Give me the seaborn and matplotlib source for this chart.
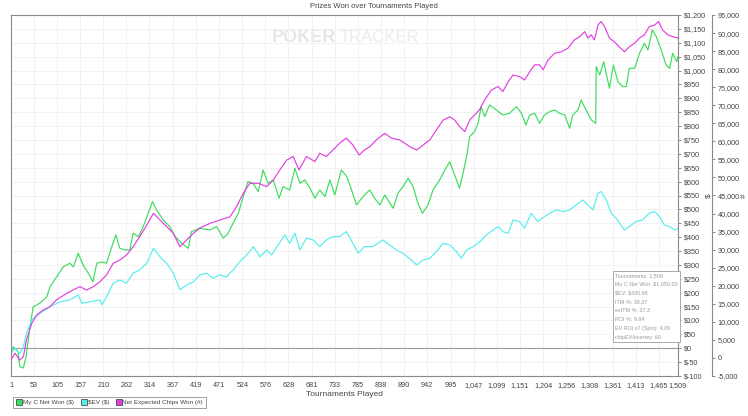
import matplotlib
matplotlib.use("Agg")
import matplotlib.pyplot as plt
import seaborn as sns
from matplotlib.lines import Line2D

# My C Net Won ($)
net_t = [1, 6, 17, 21, 29, 35, 44, 51, 67, 82, 89, 104, 119, 134, 142, 153, 164, 176, 186, 195,
         206, 217, 229, 238, 247, 259, 270, 277, 289, 300, 311, 321, 330, 345, 360, 372, 387, 402,
         409, 428, 451, 466, 481, 492, 503, 515, 526, 537, 548, 560, 571, 582, 594, 607, 616, 631,
         643, 654, 665, 677, 688, 699, 711, 722, 733, 748, 760, 771, 782, 797, 812, 823, 835, 846,
         865, 876, 887, 899, 910, 921, 931, 944, 955, 970, 982, 993, 1004, 1015, 1023, 1031, 1038,
         1049, 1057, 1064, 1072, 1083, 1098, 1113, 1128, 1144, 1155, 1165, 1174, 1185, 1196, 1207,
         1219, 1230, 1241, 1253, 1264, 1271, 1283, 1290, 1301, 1313, 1323, 1324, 1332, 1341, 1354,
         1363, 1373, 1384, 1392, 1399, 1411, 1422, 1433, 1441, 1451, 1460, 1471, 1482, 1490, 1497,
         1506, 1509]
net_won = [-13, 5, -13, -67, -71, -31, 77, 149, 163, 185, 221, 257, 293, 306, 293, 342, 300, 270,
           239, 306, 311, 306, 366, 408, 360, 354, 354, 414, 402, 438, 486, 528, 498, 462, 438, 402,
           378, 360, 420, 432, 426, 438, 396, 414, 450, 486, 546, 600, 594, 564, 642, 594, 606, 540,
           582, 570, 648, 594, 606, 576, 540, 570, 546, 606, 552, 642, 618, 570, 516, 546, 570, 540,
           516, 552, 504, 558, 582, 612, 582, 522, 486, 516, 570, 606, 642, 672, 624, 576, 630, 690,
           762, 780, 810, 870, 834, 876, 858, 840, 846, 870, 846, 804, 840, 846, 810, 840, 852, 858,
           846, 840, 792, 840, 858, 894, 858, 822, 810, 1014, 984, 1032, 936, 1020, 960, 942, 942,
           1008, 1008, 1062, 1098, 1074, 1146, 1122, 1074, 1020, 1008, 1062, 1032, 1050]

# $EV ($)
ev_t = [1, 10, 21, 29, 36, 48, 67, 89, 112, 134, 153, 161, 179, 202, 206, 217, 232, 247, 262, 277,
        292, 308, 323, 338, 353, 368, 383, 398, 413, 428, 443, 458, 473, 488, 503, 518, 534, 549,
        564, 579, 590, 605, 620, 631, 643, 654, 669, 684, 699, 714, 729, 744, 759, 774, 786, 800,
        819, 842, 857, 872, 887, 906, 918, 933, 948, 963, 978, 993, 1008, 1019, 1031, 1046, 1061,
        1076, 1091, 1102, 1113, 1125, 1136, 1151, 1162, 1177, 1192, 1207, 1219, 1234, 1249, 1264,
        1279, 1294, 1305, 1317, 1328, 1335, 1347, 1358, 1369, 1380, 1388, 1399, 1414, 1429, 1444,
        1456, 1467, 1478, 1490, 1501, 1509]
ev_won = [-18, 0, -18, 5, 54, 102, 126, 149, 167, 174, 192, 162, 167, 174, 156, 185, 234, 246, 234,
          270, 282, 306, 360, 329, 306, 270, 210, 228, 239, 264, 270, 252, 264, 257, 282, 311, 336,
          366, 329, 354, 336, 372, 408, 378, 414, 354, 396, 390, 366, 390, 402, 402, 420, 378, 342,
          366, 366, 390, 372, 354, 342, 318, 300, 318, 324, 348, 378, 372, 348, 324, 354, 366, 384,
          408, 426, 438, 420, 414, 462, 456, 432, 486, 456, 474, 486, 498, 492, 498, 516, 534, 516,
          498, 558, 564, 534, 486, 468, 444, 426, 438, 456, 462, 486, 492, 474, 444, 438, 426, 431]

# Net Expected Chips Won (#)
chips_t = [1, 10, 21, 29, 36, 48, 59, 74, 89, 104, 127, 149, 157, 172, 187, 202, 217, 232, 247, 262,
           277, 292, 308, 323, 338, 353, 368, 383, 398, 413, 428, 451, 473, 496, 511, 526, 541, 560,
           579, 594, 609, 624, 639, 652, 669, 688, 699, 714, 729, 744, 759, 774, 788, 800, 812, 827,
           846, 861, 880, 891, 903, 918, 933, 948, 963, 978, 993, 1004, 1015, 1027, 1038, 1049, 1060,
           1072, 1087, 1102, 1113, 1125, 1136, 1151, 1162, 1174, 1185, 1196, 1204, 1215, 1230, 1245,
           1260, 1275, 1287, 1298, 1305, 1313, 1320, 1328, 1335, 1343, 1354, 1365, 1376, 1388, 1399,
           1411, 1422, 1433, 1444, 1456, 1465, 1474, 1486, 1497, 1509]
chips_won = [-550, 1300, -550, 360, 4990, 9610, 11900, 13300, 14200, 16100, 17900, 19300, 19750,
             18800, 19750, 21100, 23000, 26200, 27100, 28500, 30800, 33600, 36800, 40100, 38200,
             36400, 34500, 30800, 32700, 34500, 36000, 37300, 38200, 39100, 41900, 45600, 48400,
             48400, 47450, 49300, 52100, 54800, 55800, 52100, 55800, 54400, 56700, 55800, 57600,
             59500, 60900, 59000, 56200, 57600, 58500, 60400, 62200, 60900, 60400, 59500, 58500,
             57600, 59000, 60400, 63200, 65900, 66800, 65900, 64100, 62700, 65900, 67300, 68700,
             71500, 74200, 75200, 73800, 76500, 78400, 77900, 77000, 79300, 81200, 81200, 79800,
             82500, 84400, 84800, 85800, 88100, 89000, 90400, 88600, 89500, 88100, 92200, 93200,
             91800, 88600, 87600, 86200, 84800, 86200, 87200, 88600, 89500, 91800, 92200, 93200,
             90900, 89500, 89000, 88600]

x_ticks = [1, 53, 105, 157, 210, 262, 314, 367, 419, 471, 524, 576, 628, 681, 733, 785, 838, 890,
           942, 995, 1047, 1099, 1151, 1204, 1256, 1308, 1361, 1413, 1465, 1509]
usd_ticks = list(range(-100, 1201, 50))
chip_ticks = list(range(-5000, 95001, 5000))

series_names = ["My C Net Won ($)", "$EV ($)", "Net Expected Chips Won (#)"]
stats_lines = ["Tournaments: 1,509", "My C Net Won: $1,050.00", "$EV: $430.68", "ITM %: 38.37",
               "evITM %: 37.3", "ROI %: 9.84", "EV ROI x7 (Spin): 4.09", "chipEV/tourney: 60"]

GREEN = "#3ddc5c"
CYAN = "#55eeee"
MAGENTA = "#e040e0"
EDGE = "#8a8a8a"
TEXT = "#444444"

sns.set_style("white")
plt.rcParams["font.family"] = ["Liberation Sans", "DejaVu Sans"]
plt.rcParams["font.size"] = 5.5

fig = plt.figure(figsize=(7.48, 4.16), dpi=100)
ax = fig.add_axes([11 / 748, 40 / 416, 667 / 748, 361 / 416])
ax2 = ax.twinx()

sns.lineplot(x=net_t, y=net_won, ax=ax, color=GREEN, lw=0.85)
sns.lineplot(x=ev_t, y=ev_won, ax=ax, color=CYAN, lw=0.85)
sns.lineplot(x=chips_t, y=chips_won, ax=ax2, color=MAGENTA, lw=0.85)

ax.set_xlim(1, 1509)
ax.set_ylim(-100, 1200)
ax2.set_ylim(-5000, 95000)

ax.set_xticks(x_ticks)
ax.set_xticklabels([f"{t:,}" for t in x_ticks])
ax.set_yticks(usd_ticks)
ax.set_yticklabels([f"${v:,}" for v in usd_ticks])
ax.yaxis.tick_right()
ax.yaxis.set_label_position("right")
ax2.set_yticks(chip_ticks)
ax2.set_yticklabels([f"{v:,}" for v in chip_ticks])

ax.grid(True, color="#f0f0f0", lw=0.6)
ax.axhline(0, color="#9a9a9a", lw=0.8, zorder=1)

for s in ax.spines.values():
    s.set_color(EDGE)
    s.set_linewidth(0.8)
for name, s in ax2.spines.items():
    s.set_visible(name == "right")
ax2.spines["right"].set_position(("outward", 24.5))
ax2.spines["right"].set_color(EDGE)
ax2.spines["right"].set_linewidth(0.8)

for a in (ax, ax2):
    a.tick_params(axis="both", length=2.5, width=0.6, color="#777", labelcolor=TEXT,
                  labelsize=5.2, pad=1.5, direction="out")

ax.set_xlabel("Tournaments Played", color=TEXT, fontsize=6, labelpad=2)
ax.set_ylabel("$", color=TEXT, fontsize=6, rotation=90, labelpad=0)
ax2.set_ylabel("#", color=TEXT, fontsize=6, rotation=90, labelpad=1)

fig.text(0.5, 1 - 6 / 416, "Prizes Won over Tournaments Played", ha="center", va="center",
         color=TEXT, fontsize=5.5)

# watermark
ax.text(0.488, 0.937, "POKER", transform=ax.transAxes, ha="right", va="center",
        fontsize=13, fontweight="bold", color="#e6e6e6", zorder=0)
ax.text(0.493, 0.937, "TRACKER", transform=ax.transAxes, ha="left", va="center",
        fontsize=12, color="#ececec", zorder=0)

ax2.text(0.9055, 0.285, "\n".join(stats_lines), transform=ax2.transAxes, ha="left", va="top",
         fontsize=3.9, color="#999", linespacing=1.95, parse_math=False,
         bbox=dict(boxstyle="square,pad=0.45", fc="white", ec="#aaaaaa", lw=0.7))

handles = [Line2D([], [], marker="s", ls="", markersize=4.2, markerfacecolor=c,
                  markeredgecolor="#333", markeredgewidth=0.5) for c in (GREEN, CYAN, MAGENTA)]
leg = fig.legend(handles, series_names,
                 loc="lower left", bbox_to_anchor=(10 / 748, 5 / 416), ncol=3, fontsize=4.6,
                 frameon=True, fancybox=False, edgecolor="#888", handletextpad=0.1,
                 columnspacing=1.0, borderpad=0.45, handlelength=1.0)
leg.get_frame().set_linewidth(0.7)
for t in leg.get_texts():
    t.set_color(TEXT)
    t.set_parse_math(False)

fig.savefig("out.png", dpi=100, facecolor="white")
